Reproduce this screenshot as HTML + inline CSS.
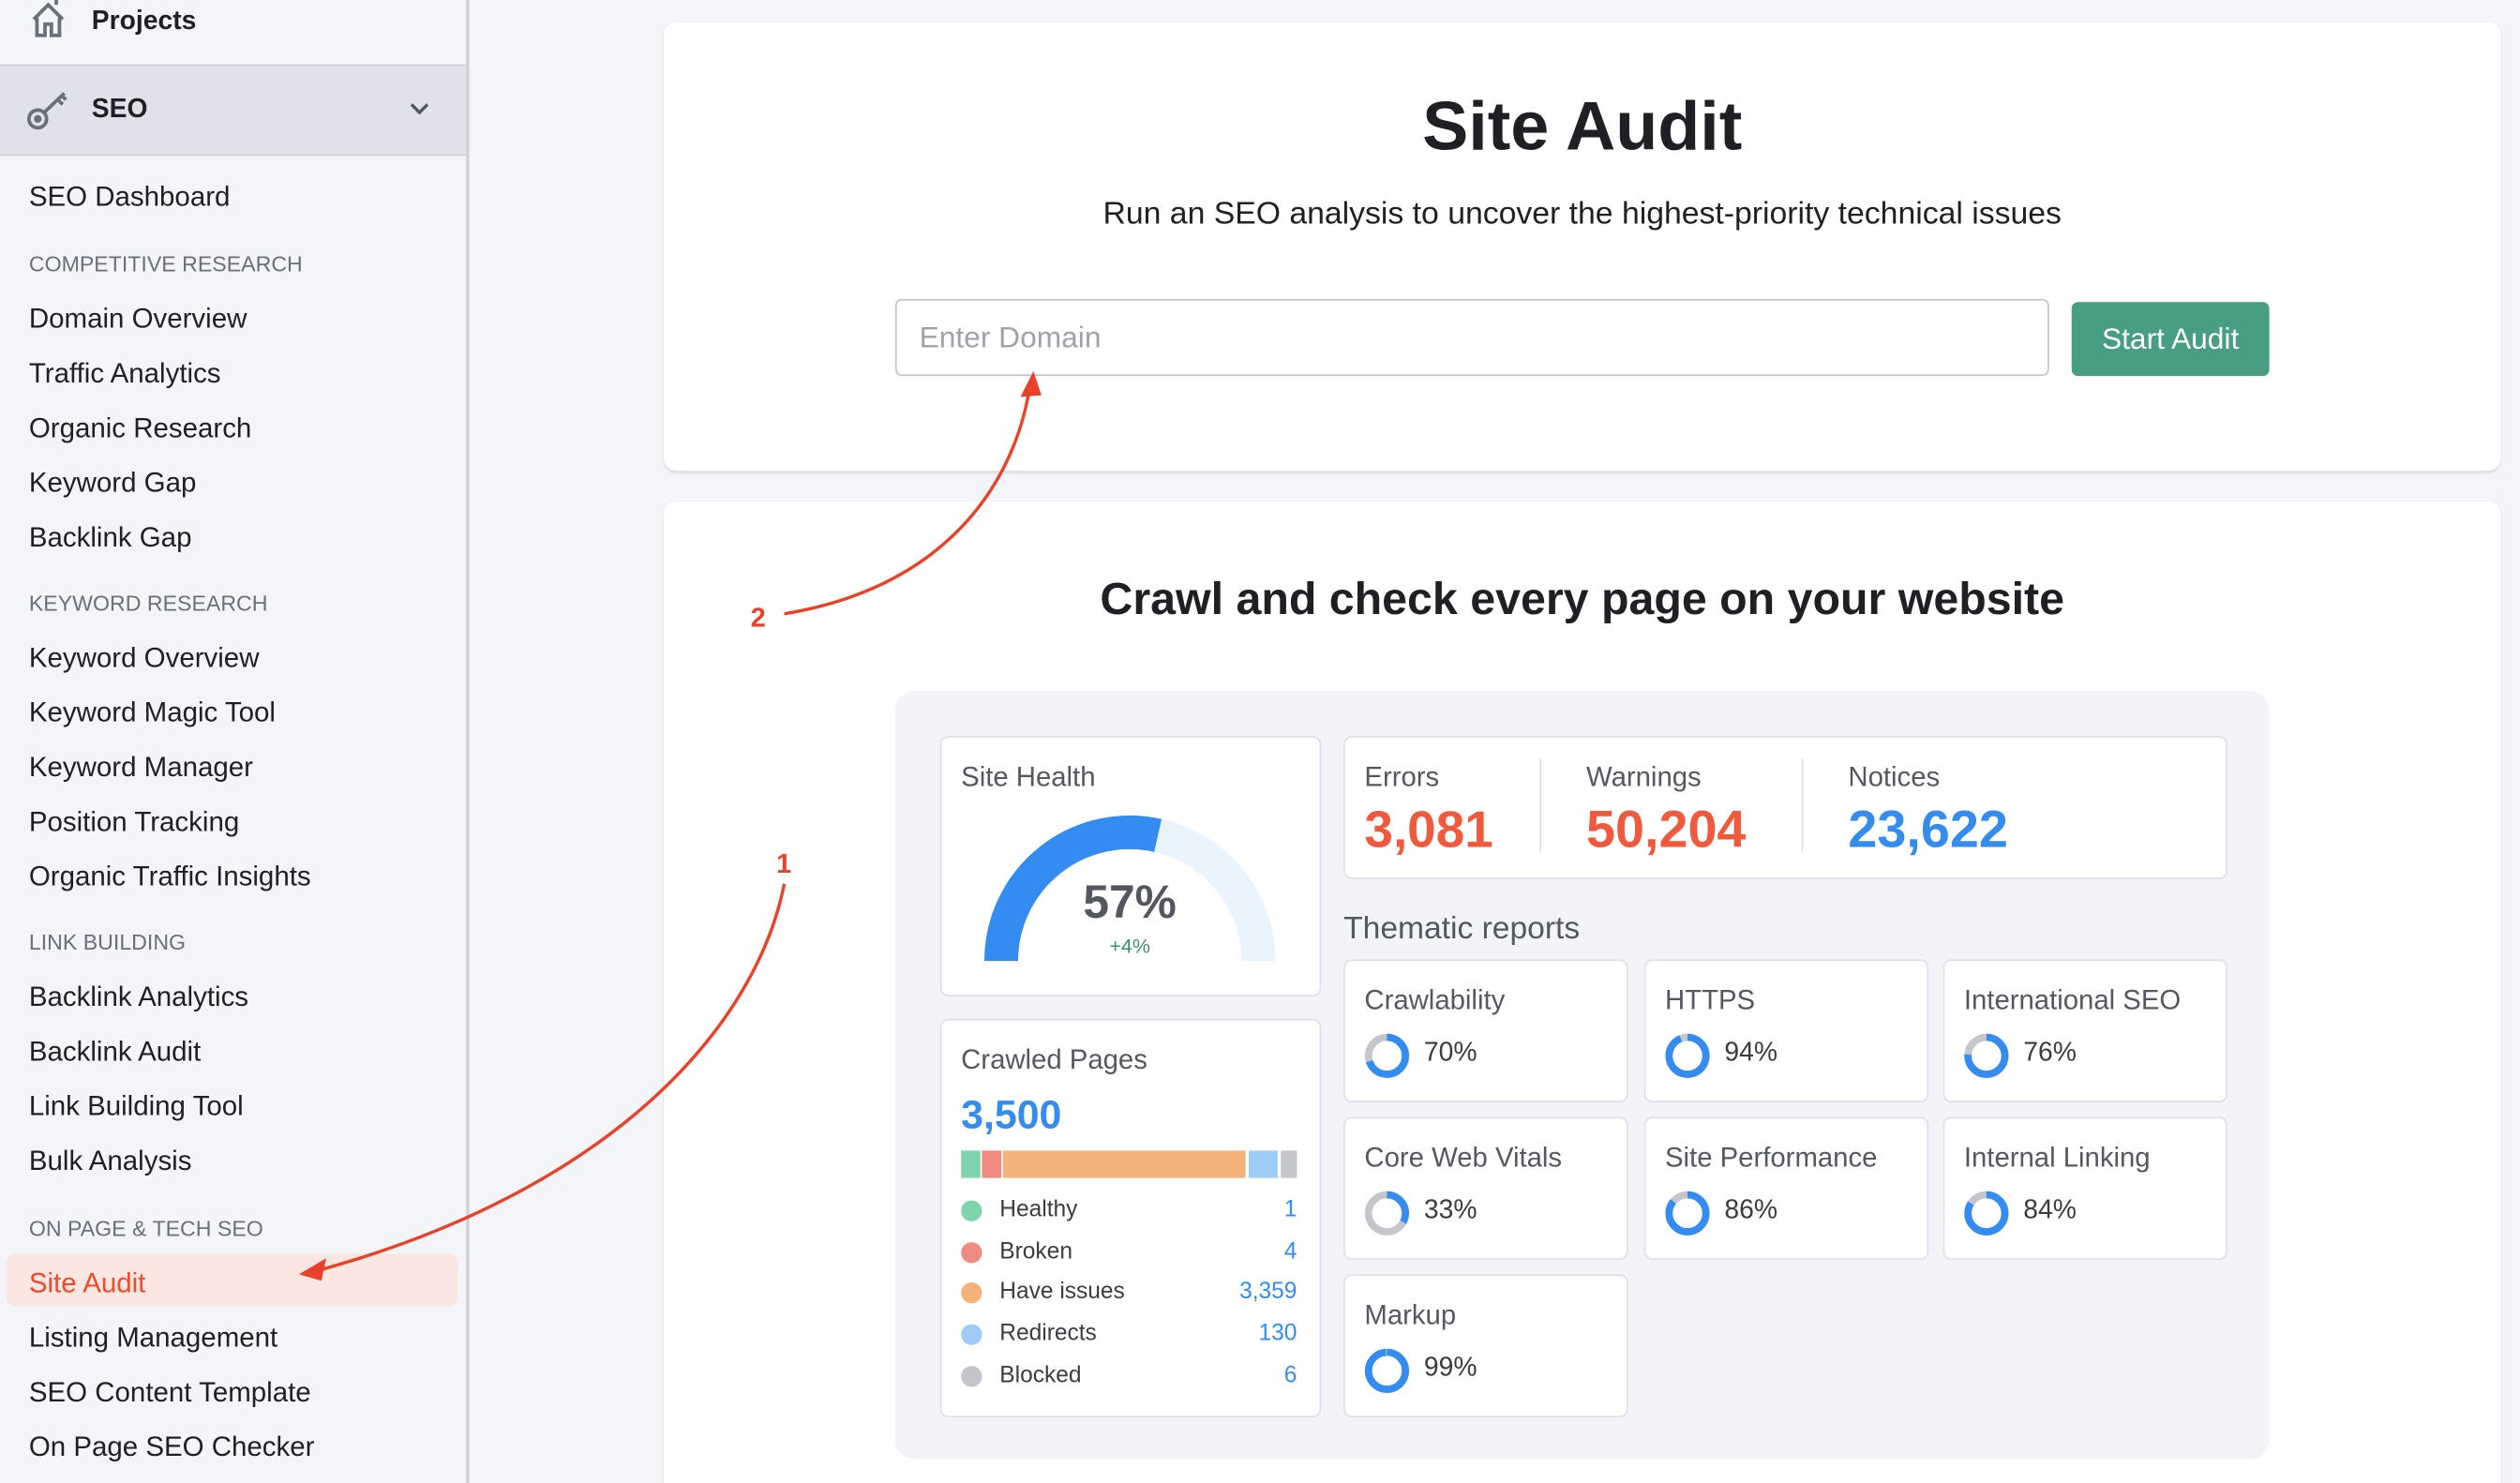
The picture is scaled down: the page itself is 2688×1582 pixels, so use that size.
<!DOCTYPE html>
<html><head><meta charset="utf-8"><style>
html,body{margin:0;padding:0;width:2688px;height:1582px;overflow:hidden;background:#f4f5f9;}
#w{position:absolute;left:0;top:0;width:1568px;height:923px;overflow:hidden;transform:scale(1.71429);transform-origin:0 0;font-family:"Liberation Sans",sans-serif;color:#1f2023;}
.a{position:absolute;white-space:nowrap;line-height:1;}
.nav{font-size:17.2px;left:18px;color:#1f2023;}
.hd{font-size:13.5px;left:18px;color:#6c6e79;}
.card{position:absolute;background:#fff;border-radius:8px;box-shadow:0 1px 2px rgba(0,0,0,.12);}
.ic{position:absolute;background:#fff;border:1px solid #dfe0e6;border-radius:5px;}
.tt{font-size:17.1px;color:#555860;}
</style></head><body><div id="w">
<div style="position:absolute;left:0;top:0;width:290px;height:923px;background:#f4f5f9;border-right:2px solid #cfd1d7;"></div>
<div style="position:absolute;left:0;top:40px;width:290px;height:55px;background:#e1e2e9;border-top:1px solid #d2d3d9;border-bottom:1px solid #d2d3d9;"></div>
<svg style="position:absolute;left:14px;top:0" width="40" height="90" viewBox="0 0 40 90" fill="none" stroke="#6c6e79" stroke-width="2.2">
<path d="M7 12 L16 3 L25 12 M9 11 V22 H14 V15 H18 V22 H23 V11"/><path d="M21 0 V3"/>
<circle cx="9.5" cy="74" r="5.5"/><circle cx="9.5" cy="74" r="1.3" fill="#6c6e79"/><path d="M13.5 70 L26 58 M22 62 L25 65 M24 59 L27 62"/>
</svg>
<div class="a" style="left:57px;top:5px;font-size:16.5px;font-weight:bold;">Projects</div>
<div class="a" style="left:57px;top:60px;font-size:16.5px;font-weight:bold;">SEO</div>
<svg style="position:absolute;left:254px;top:63px" width="14" height="10"><path d="M2 2 L7 7 L12 2" stroke="#55575f" stroke-width="2" fill="none"/></svg>
<div class="a nav" style="top:114px">SEO Dashboard</div>
<div class="a hd" style="top:158px">COMPETITIVE RESEARCH</div>
<div class="a nav" style="top:190px">Domain Overview</div>
<div class="a nav" style="top:224px">Traffic Analytics</div>
<div class="a nav" style="top:258px">Organic Research</div>
<div class="a nav" style="top:292px">Keyword Gap</div>
<div class="a nav" style="top:326px">Backlink Gap</div>
<div class="a hd" style="top:369px">KEYWORD RESEARCH</div>
<div class="a nav" style="top:401px">Keyword Overview</div>
<div class="a nav" style="top:435px">Keyword Magic Tool</div>
<div class="a nav" style="top:469px">Keyword Manager</div>
<div class="a nav" style="top:503px">Position Tracking</div>
<div class="a nav" style="top:537px">Organic Traffic Insights</div>
<div class="a hd" style="top:580px">LINK BUILDING</div>
<div class="a nav" style="top:612px">Backlink Analytics</div>
<div class="a nav" style="top:646px">Backlink Audit</div>
<div class="a nav" style="top:680px">Link Building Tool</div>
<div class="a nav" style="top:714px">Bulk Analysis</div>
<div class="a hd" style="top:758px">ON PAGE &amp; TECH SEO</div>
<div style="position:absolute;left:4px;top:780px;width:281px;height:33px;background:#fbe7e2;border-radius:6px;"></div>
<div class="a nav" style="top:790px;color:#f2492a;">Site Audit</div>
<div class="a nav" style="top:824px">Listing Management</div>
<div class="a nav" style="top:858px">SEO Content Template</div>
<div class="a nav" style="top:892px">On Page SEO Checker</div>

<div class="card" style="left:413px;top:14px;width:1143px;height:279px;"></div>
<div class="card" style="left:413px;top:312px;width:1143px;height:620px;"></div>
<div class="a" style="left:413px;width:1143px;text-align:center;top:58px;font-size:43px;font-weight:bold;">Site Audit</div>
<div class="a" style="left:413px;width:1143px;text-align:center;top:124px;font-size:19.7px;">Run an SEO analysis to uncover the highest-priority technical issues</div>
<div style="position:absolute;left:557px;top:186px;width:716px;height:46px;border:1px solid #c3c5cc;border-radius:4px;background:#fff;"></div>
<div class="a" style="left:572px;top:201px;font-size:18.5px;color:#a0a2aa;">Enter Domain</div>
<div style="position:absolute;left:1289px;top:188px;width:123px;height:46px;background:#489e82;border-radius:4px;"></div>
<div class="a" style="left:1289px;width:123px;text-align:center;top:202px;font-size:18.5px;color:#fff;">Start Audit</div>
<div class="a" style="left:413px;width:1143px;text-align:center;top:358px;font-size:28.2px;font-weight:bold;">Crawl and check every page on your website</div>

<div style="position:absolute;left:557px;top:430px;width:855px;height:478px;background:#f3f4f8;border-radius:12px;"></div>
<div class="ic" style="left:585px;top:458px;width:235px;height:160px;"></div>
<div class="a tt" style="left:598px;top:475px;">Site Health</div>
<svg style="position:absolute;left:585px;top:458px" width="235" height="160">
<g transform="translate(-585,-458)" fill="none" stroke-width="21">
<path d="M623 598 A80 80 0 0 1 720.5 519.9" stroke="#358cf0"/>
<path d="M720.5 519.9 A80 80 0 0 1 783 598" stroke="#e9f4fe"/>
</g></svg>
<div class="a" style="left:585px;width:236px;text-align:center;top:548px;font-size:29px;font-weight:bold;color:#55575f;">57%</div>
<div class="a" style="left:585px;width:236px;text-align:center;top:583px;font-size:12.5px;color:#3f8f6c;">+4%</div>
<div class="ic" style="left:585px;top:634px;width:235px;height:246px;"></div>
<div class="a tt" style="left:598px;top:651px;">Crawled Pages</div>
<div class="a" style="left:598px;top:682px;font-size:25px;font-weight:bold;color:#368bef;">3,500</div>
<div style="position:absolute;top:716px;height:17px;left:598px;width:12px;background:#7fd3ad"></div>
<div style="position:absolute;top:716px;height:17px;left:611px;width:12px;background:#ef8b80"></div>
<div style="position:absolute;top:716px;height:17px;left:624px;width:151px;background:#f4b37a"></div>
<div style="position:absolute;top:716px;height:17px;left:777px;width:18px;background:#9fccf6"></div>
<div style="position:absolute;top:716px;height:17px;left:797px;width:10px;background:#c4c5ca"></div>
<div style="position:absolute;left:598px;top:741px;width:209px;font-size:14.3px;color:#3a3c42;line-height:25.7px;">
<div style="position:relative"><span style="position:absolute;left:0;top:6px;width:13px;height:13px;border-radius:50%;background:#7fd3ad"></span><span style="margin-left:24px">Healthy</span><span style="float:right;color:#368bef">1</span></div>
<div style="position:relative"><span style="position:absolute;left:0;top:6px;width:13px;height:13px;border-radius:50%;background:#ef8b80"></span><span style="margin-left:24px">Broken</span><span style="float:right;color:#368bef">4</span></div>
<div style="position:relative"><span style="position:absolute;left:0;top:6px;width:13px;height:13px;border-radius:50%;background:#f4b37a"></span><span style="margin-left:24px">Have issues</span><span style="float:right;color:#368bef">3,359</span></div>
<div style="position:relative"><span style="position:absolute;left:0;top:6px;width:13px;height:13px;border-radius:50%;background:#9fccf6"></span><span style="margin-left:24px">Redirects</span><span style="float:right;color:#368bef">130</span></div>
<div style="position:relative"><span style="position:absolute;left:0;top:6px;width:13px;height:13px;border-radius:50%;background:#c4c5ca"></span><span style="margin-left:24px">Blocked</span><span style="float:right;color:#368bef">6</span></div>
</div>
<div class="ic" style="left:836px;top:458px;width:548px;height:87px;"></div>
<div style="position:absolute;left:958px;top:472px;width:1px;height:58px;background:#dfe0e6"></div>
<div style="position:absolute;left:1121px;top:472px;width:1px;height:58px;background:#dfe0e6"></div>
<div class="a tt" style="left:849px;top:475px;">Errors</div>
<div class="a tt" style="left:987px;top:475px;">Warnings</div>
<div class="a tt" style="left:1150px;top:475px;">Notices</div>
<div class="a" style="left:849px;top:500px;font-size:32px;font-weight:bold;color:#ef5a3e;">3,081</div>
<div class="a" style="left:987px;top:500px;font-size:32.5px;font-weight:bold;color:#ef5a3e;">50,204</div>
<div class="a" style="left:1150px;top:500px;font-size:32.5px;font-weight:bold;color:#368bef;">23,622</div>
<div class="a" style="left:836px;top:569px;font-size:19.6px;color:#55575f;">Thematic reports</div>

<div class="ic" style="left:836px;top:597px;width:175px;height:87px;"></div>
<div class="ic" style="left:1023px;top:597px;width:175px;height:87px;"></div>
<div class="ic" style="left:1209px;top:597px;width:175px;height:87px;"></div>
<div class="ic" style="left:836px;top:695px;width:175px;height:87px;"></div>
<div class="ic" style="left:1023px;top:695px;width:175px;height:87px;"></div>
<div class="ic" style="left:1209px;top:695px;width:175px;height:87px;"></div>
<div class="ic" style="left:836px;top:793px;width:175px;height:87px;"></div>

<div class="a tt" style="left:849px;top:614px;">Crawlability</div>
<div class="a tt" style="left:1036px;top:614px;">HTTPS</div>
<div class="a tt" style="left:1222px;top:614px;">International SEO</div>
<div class="a tt" style="left:849px;top:712px;">Core Web Vitals</div>
<div class="a tt" style="left:1036px;top:712px;">Site Performance</div>
<div class="a tt" style="left:1222px;top:712px;">Internal Linking</div>
<div class="a tt" style="left:849px;top:810px;">Markup</div>

<svg style="position:absolute;left:0;top:0" width="1568" height="923" fill="none">
<g stroke-width="4.5">
<g transform="translate(863,657) rotate(-90)"><circle r="11.5" stroke="#c5c6cb"/><circle r="11.5" stroke="#358cf0" stroke-dasharray="50.6 100"/></g>
<g transform="translate(1050,657) rotate(-90)"><circle r="11.5" stroke="#c5c6cb"/><circle r="11.5" stroke="#358cf0" stroke-dasharray="67.9 100"/></g>
<g transform="translate(1236,657) rotate(-90)"><circle r="11.5" stroke="#c5c6cb"/><circle r="11.5" stroke="#358cf0" stroke-dasharray="54.9 100"/></g>
<g transform="translate(863,755) rotate(-90)"><circle r="11.5" stroke="#c5c6cb"/><circle r="11.5" stroke="#358cf0" stroke-dasharray="23.8 100"/></g>
<g transform="translate(1050,755) rotate(-90)"><circle r="11.5" stroke="#c5c6cb"/><circle r="11.5" stroke="#358cf0" stroke-dasharray="62.1 100"/></g>
<g transform="translate(1236,755) rotate(-90)"><circle r="11.5" stroke="#c5c6cb"/><circle r="11.5" stroke="#358cf0" stroke-dasharray="60.7 100"/></g>
<g transform="translate(863,853) rotate(-90)"><circle r="11.5" stroke="#c5c6cb"/><circle r="11.5" stroke="#358cf0" stroke-dasharray="71.5 100"/></g>
</g>
<path d="M488 550 C470 640 380 740 200 790" stroke="#e8422b" stroke-width="2"/>
<path d="M186 793 L203 783 L200 797 Z" fill="#e8422b"/>
<path d="M488 382 C590 365 630 300 640 245" stroke="#e8422b" stroke-width="2"/>
<path d="M643 231 L635 247 L648 246 Z" fill="#e8422b"/>
</svg>
<div class="a" style="left:886px;top:647px;font-size:16.5px;color:#3a3c42;">70%</div>
<div class="a" style="left:1073px;top:647px;font-size:16.5px;color:#3a3c42;">94%</div>
<div class="a" style="left:1259px;top:647px;font-size:16.5px;color:#3a3c42;">76%</div>
<div class="a" style="left:886px;top:745px;font-size:16.5px;color:#3a3c42;">33%</div>
<div class="a" style="left:1073px;top:745px;font-size:16.5px;color:#3a3c42;">86%</div>
<div class="a" style="left:1259px;top:745px;font-size:16.5px;color:#3a3c42;">84%</div>
<div class="a" style="left:886px;top:843px;font-size:16.5px;color:#3a3c42;">99%</div>
<div class="a" style="left:483px;top:529px;font-size:17px;font-weight:bold;color:#e8422b;">1</div>
<div class="a" style="left:467px;top:376px;font-size:17px;font-weight:bold;color:#e8422b;">2</div>
</div></body></html>
